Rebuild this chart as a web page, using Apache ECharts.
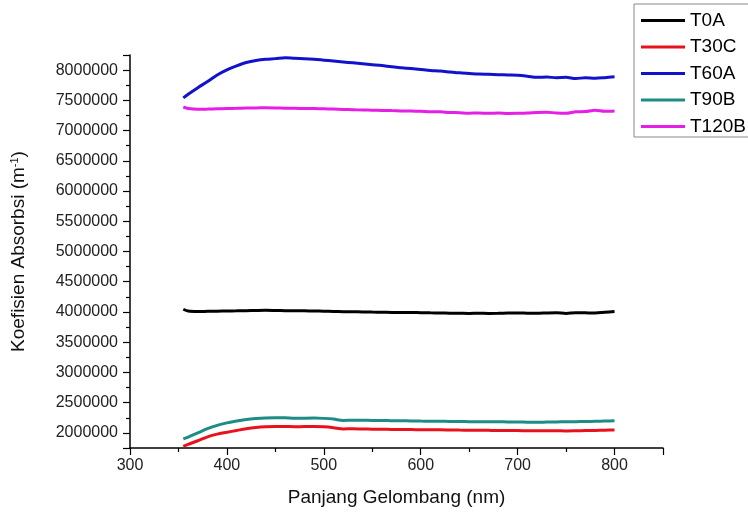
<!DOCTYPE html>
<html>
<head>
<meta charset="utf-8">
<script src="https://cdn.jsdelivr.net/npm/echarts@6/dist/echarts.min.js"></script>
<style>
  html, body { margin: 0; padding: 0; background: #fff; }
  #chart { width: 748px; height: 512px; }
</style>
</head>
<body>
<div id="chart"></div>
<script>
// Wavelength grid (nm)
const wavelength = [355,360,370,380,390,400,410,420,430,440,450,460,470,480,490,500,510,520,530,540,550,560,570,580,590,600,610,620,630,640,650,660,670,680,690,700,710,720,730,740,750,760,770,780,790,800];

// Absorption coefficient (m^-1) per sample
const T0A = [4045000,4015000,4008000,4010000,4012000,4016000,4018000,4022000,4025000,4027000,4025000,4022000,4020000,4018000,4016000,4013000,4008000,4005000,4003000,4001000,3998000,3996000,3992000,3990000,3992000,3988000,3985000,3983000,3980000,3978000,3976000,3980000,3976000,3978000,3982000,3984000,3980000,3978000,3983000,3986000,3976000,3988000,3985000,3982000,3995000,4008000];
const T30C = [1778000,1810000,1870000,1935000,1980000,2010000,2040000,2068000,2088000,2100000,2106000,2106000,2103000,2104000,2105000,2100000,2086000,2065000,2068000,2065000,2062000,2060000,2058000,2056000,2055000,2052000,2050000,2050000,2048000,2046000,2045000,2044000,2042000,2040000,2040000,2038000,2035000,2034000,2036000,2035000,2033000,2035000,2038000,2040000,2044000,2048000];
const T60A = [7540000,7600000,7710000,7810000,7920000,8005000,8070000,8125000,8160000,8180000,8190000,8205000,8195000,8190000,8180000,8165000,8150000,8135000,8120000,8105000,8090000,8075000,8055000,8040000,8025000,8010000,7995000,7985000,7970000,7955000,7945000,7935000,7930000,7925000,7920000,7915000,7900000,7880000,7885000,7875000,7880000,7860000,7875000,7865000,7875000,7890000];
const T90B = [1900000,1930000,2000000,2070000,2125000,2165000,2195000,2222000,2238000,2248000,2252000,2250000,2240000,2244000,2246000,2240000,2228000,2205000,2210000,2208000,2206000,2205000,2202000,2200000,2198000,2195000,2194000,2192000,2190000,2188000,2186000,2185000,2184000,2183000,2182000,2180000,2176000,2174000,2178000,2181000,2184000,2186000,2188000,2192000,2196000,2200000];
const T120B = [7390000,7365000,7352000,7355000,7360000,7365000,7368000,7372000,7375000,7376000,7374000,7370000,7368000,7366000,7364000,7360000,7355000,7350000,7345000,7340000,7337000,7333000,7330000,7325000,7322000,7318000,7312000,7310000,7300000,7295000,7288000,7292000,7285000,7290000,7283000,7285000,7290000,7300000,7305000,7290000,7285000,7310000,7315000,7335000,7318000,7325000];

const seriesNames = ['T0A', 'T30C', 'T60A', 'T90B', 'T120B'];
const seriesData = [T0A, T30C, T60A, T90B, T120B];
const seriesColors = ['#000000', '#e8121c', '#1212cc', '#1c8c84', '#e61ee6'];

const FONT = 'Arial, "Liberation Sans", sans-serif';

const chart = echarts.init(document.getElementById('chart'), null, { renderer: 'canvas' });

chart.setOption({
  animation: false,
  backgroundColor: '#ffffff',
  grid: { left: 130, right: 85, top: 55, bottom: 64, containLabel: false },
  legend: {
    orient: 'vertical',
    left: 634,
    top: 4,
    data: seriesNames,
    icon: 'rect',
    itemWidth: 44,
    itemHeight: 3,
    itemGap: 7.5,
    padding: [7, 40, 1, 7],
    borderColor: '#888888',
    borderWidth: 1,
    textStyle: { fontFamily: FONT, fontSize: 19, color: '#000', lineHeight: 16 }
  },
  xAxis: {
    type: 'value',
    min: 300,
    max: 850,
    splitNumber: 6,
    name: 'Panjang Gelombang (nm)',
    nameLocation: 'middle',
    nameGap: 40,
    nameTextStyle: { fontFamily: FONT, fontSize: 19, color: '#111' },
    axisLine: { show: true, lineStyle: { color: '#000', width: 1.5 } },
    axisTick: { show: true, inside: false, length: 7, lineStyle: { color: '#000', width: 1.2 } },
    minorTick: { show: true, splitNumber: 2, length: 4, lineStyle: { color: '#000', width: 1.2 } },
    axisLabel: { fontFamily: FONT, fontSize: 16, color: '#222', margin: 10, showMaxLabel: false },
    splitLine: { show: false }
  },
  yAxis: {
    type: 'value',
    min: 1750000,
    max: 8250000,
    splitNumber: 13,
    name: 'Koefisien Absorbsi (m{sup|-1})',
    nameLocation: 'middle',
    nameGap: 102,
    nameRotate: 90,
    nameTextStyle: {
      fontFamily: FONT, fontSize: 19, color: '#111',
      rich: { sup: { fontFamily: FONT, fontSize: 11, color: '#111', verticalAlign: 'top', padding: [0, 0, 8, 0] } }
    },
    axisLine: { show: true, lineStyle: { color: '#000', width: 1.5 } },
    axisTick: { show: true, inside: false, length: 7, lineStyle: { color: '#000', width: 1.2 } },
    minorTick: { show: true, splitNumber: 2, length: 4, lineStyle: { color: '#000', width: 1.2 } },
    axisLabel: {
      fontFamily: FONT, fontSize: 16, color: '#222', margin: 12,
      showMinLabel: false, showMaxLabel: false,
      formatter: (v) => String(Math.round(v))
    },
    splitLine: { show: false }
  },
  series: seriesNames.map((name, i) => ({
    name: name,
    type: 'line',
    data: wavelength.map((w, j) => [w, seriesData[i][j]]),
    showSymbol: false,
    symbol: 'none',
    smooth: 0.3,
    lineStyle: { color: seriesColors[i], width: 3 },
    itemStyle: { color: seriesColors[i] }
  }))
});
</script>
</body>
</html>
